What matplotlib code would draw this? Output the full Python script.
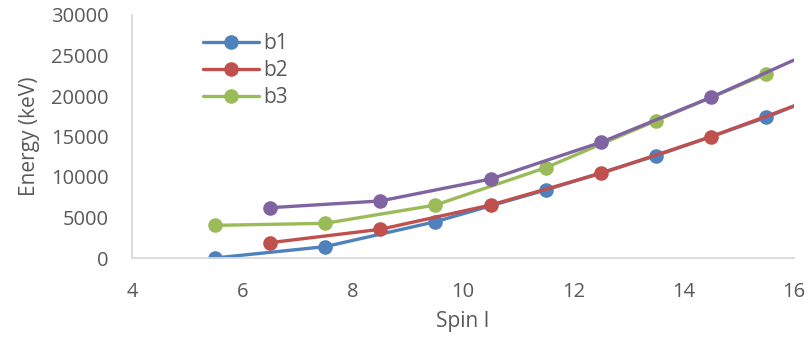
import matplotlib
matplotlib.use("Agg")
import matplotlib.pyplot as plt

plt.rcParams['font.family'] = ['Open Sans', 'DejaVu Sans']

# Band energies versus spin
spin_b1 = [5.5, 7.5, 9.5, 11.5, 13.5, 15.5, 17.5]
energy_b1 = [0, 1400, 4480, 8400, 12630, 17370, 22950]

spin_b2 = [6.5, 8.5, 10.5, 12.5, 14.5, 16.5]
energy_b2 = [1890, 3540, 6540, 10450, 14980, 20030]

spin_b3 = [5.5, 7.5, 9.5, 11.5, 13.5, 15.5]
energy_b3 = [4030, 4280, 6540, 11150, 16950, 22720]

spin_b4 = [6.5, 8.5, 10.5, 12.5, 14.5, 16.5]
energy_b4 = [6210, 7040, 9750, 14280, 19840, 25970]

xticks = [4, 6, 8, 10, 12, 14, 16]
yticks = [0, 5000, 10000, 15000, 20000, 25000, 30000]

colors = ['#4F81BD', '#C0504D', '#9BBB59', '#8064A2']
text_color = '#595959'
axis_color = '#D9D9D9'
fs = 14.5

fig = plt.figure(figsize=(8.11, 3.42), dpi=100)
ax = fig.add_axes([132 / 811, 1 - 258 / 342, (794 - 132) / 811, (258 - 15) / 342])

series = [(spin_b1, energy_b1, 'b1'), (spin_b2, energy_b2, 'b2'),
          (spin_b3, energy_b3, 'b3'), (spin_b4, energy_b4, None)]
handles = []
for (xs, ys, lab), c in zip(series, colors):
    ln, = ax.plot(xs, ys, color=c, lw=2.4, marker='o', ms=10.5,
                  markeredgewidth=0, solid_capstyle='round', label=lab)
    if lab:
        handles.append(ln)

ax.set_xlim(4, 16)
ax.set_ylim(0, 30000)
ax.set_xticks(xticks)
ax.set_yticks(yticks)
ax.tick_params(axis='both', length=0, labelsize=fs, labelcolor=text_color)
ax.tick_params(axis='x', pad=17)
ax.tick_params(axis='y', pad=17)

for side in ['top', 'right']:
    ax.spines[side].set_visible(False)
for side in ['left', 'bottom']:
    ax.spines[side].set_color(axis_color)
    ax.spines[side].set_linewidth(1.3)

ax.set_xlabel('Spin I', fontsize=fs + 0.5, color=text_color, labelpad=7)
ax.set_ylabel('Energy (keV)', fontsize=fs + 0.5, color=text_color, labelpad=8)

ax.legend(handles=handles, loc='upper left', bbox_to_anchor=(0.107, 0.925),
          frameon=False, fontsize=fs + 0.5, labelcolor=text_color, borderpad=0,
          borderaxespad=0, handlelength=2.7, handletextpad=0.2,
          labelspacing=0.28)

fig.savefig('out.png', dpi=100)
